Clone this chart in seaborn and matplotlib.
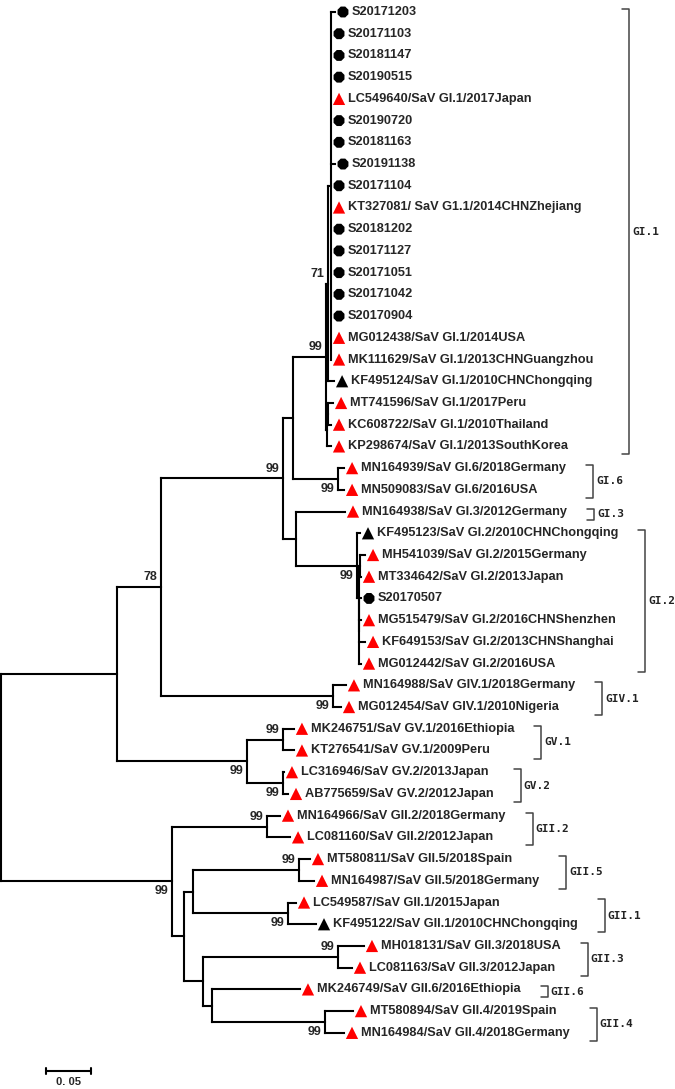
import numpy as np
import pandas as pd
import matplotlib
matplotlib.use("Agg")
import matplotlib.pyplot as plt
import seaborn as sns

# ---- tree data: leaves (top to bottom) ----
taxa = [
    "S20171203", "S20171103", "S20181147", "S20190515",
    "LC549640/SaV GI.1/2017Japan", "S20190720", "S20181163", "S20191138",
    "S20171104", "KT327081/ SaV G1.1/2014CHNZhejiang", "S20181202", "S20171127",
    "S20171051", "S20171042", "S20170904", "MG012438/SaV GI.1/2014USA",
    "MK111629/SaV GI.1/2013CHNGuangzhou", "KF495124/SaV GI.1/2010CHNChongqing",
    "MT741596/SaV GI.1/2017Peru", "KC608722/SaV GI.1/2010Thailand",
    "KP298674/SaV GI.1/2013SouthKorea", "MN164939/SaV GI.6/2018Germany",
    "MN509083/SaV GI.6/2016USA", "MN164938/SaV GI.3/2012Germany",
    "KF495123/SaV GI.2/2010CHNChongqing", "MH541039/SaV GI.2/2015Germany",
    "MT334642/SaV GI.2/2013Japan", "S20170507",
    "MG515479/SaV GI.2/2016CHNShenzhen", "KF649153/SaV GI.2/2013CHNShanghai",
    "MG012442/SaV GI.2/2016USA", "MN164988/SaV GIV.1/2018Germany",
    "MG012454/SaV GIV.1/2010Nigeria", "MK246751/SaV GV.1/2016Ethiopia",
    "KT276541/SaV GV.1/2009Peru", "LC316946/SaV GV.2/2013Japan",
    "AB775659/SaV GV.2/2012Japan", "MN164966/SaV GII.2/2018Germany",
    "LC081160/SaV GII.2/2012Japan", "MT580811/SaV GII.5/2018Spain",
    "MN164987/SaV GII.5/2018Germany", "LC549587/SaV GII.1/2015Japan",
    "KF495122/SaV GII.1/2010CHNChongqing", "MH018131/SaV GII.3/2018USA",
    "LC081163/SaV GII.3/2012Japan", "MK246749/SaV GII.6/2016Ethiopia",
    "MT580894/SaV GII.4/2019Spain", "MN164984/SaV GII.4/2018Germany",
]
taxa_kind = (["sample"] * 4 + ["ref"] + ["sample"] * 4 + ["ref"] + ["sample"] * 5
             + ["ref", "ref", "cq"] + ["ref"] * 6 + ["cq", "ref", "ref", "sample"]
             + ["ref"] * 14 + ["cq"] + ["ref"] * 5)
taxa_parent = (["poly"] * 17 + ["n71", "K2", "K2", "K", "GI6", "GI6", "H", "GI2",
               "GI2p", "GI2p", "GI2c", "GI2c", "GI2c", "GI2c", "GIV1", "GIV1",
               "GV1", "GV1", "GV2", "GV2", "GII2", "GII2", "GII5", "GII5",
               "GII1", "GII1", "GII3", "GII3", "E", "GII4", "GII4"])
taxa_len = [0.0044, 0, 0, 0, 0, 0, 0, 0.0044, 0, 0, 0, 0, 0, 0, 0, 0, 0,
            0.0067, 0.0056, 0.0033, 0.0044, 0.0067, 0.0067, 0.0544, 0.0033,
            0.0056, 0.0011, 0.0022, 0.0022, 0.0067, 0.0022, 0.0144, 0.0089,
            0.0122, 0.0122, 0.0011, 0.0056, 0.0144, 0.0256, 0.0122, 0.0167,
            0.0089, 0.0311, 0.0289, 0.0156, 0.0978, 0.0311, 0.0211]

# ---- internal nodes ----
node_names = ["root", "up", "P", "G", "F", "GI1", "n71", "poly", "K", "K2", "GI6",
              "H", "GI2", "GI2b", "GI2p", "GI2c", "GIV1", "V", "GV1", "GV2", "A",
              "GII2", "B", "C", "GII5", "GII1", "D", "GII3", "E", "GII4"]
node_parent = [None, "root", "up", "P", "G", "F", "GI1", "n71", "GI1", "K", "F",
               "G", "H", "GI2", "GI2b", "GI2b", "P", "up", "V", "V", "root",
               "A", "A", "B", "C", "C", "B", "D", "D", "E"]
node_len = [0, 0.1289, 0.0489, 0.1356, 0.0111, 0.0367, 0.0022, 0.0033, 0.0011,
            0.0011, 0.0500, 0.0144, 0.0678, 0.0022, 0.0011, 0.0, 0.1911, 0.1444,
            0.0400, 0.0400, 0.1900, 0.1056, 0.0133, 0.0100, 0.1178, 0.1056,
            0.0211, 0.1500, 0.0100, 0.1256]
node_support = [None, None, 78, 99, None, 99, 71, None, None, None, 99,
                None, 99, None, None, None, 99, 99, 99, 99, 99,
                99, None, None, 99, 99, None, 99, None, 99]

# ---- genogroup brackets ----
clade_names = ["GI.1", "GI.6", "GI.3", "GI.2", "GIV.1", "GV.1", "GV.2",
               "GII.2", "GII.5", "GII.1", "GII.3", "GII.6", "GII.4"]
clade_first = [1, 22, 24, 25, 32, 34, 36, 38, 40, 42, 44, 46, 47]
clade_last = [21, 23, 24, 31, 33, 35, 37, 39, 41, 43, 45, 46, 48]

scale_len = 0.05

# ---- layout ----
parent = dict(zip(node_names, node_parent))
parent.update(zip(taxa, taxa_parent))
blen = dict(zip(node_names, node_len))
blen.update(zip(taxa, taxa_len))
children = {n: [] for n in node_names}
for name, p in parent.items():
    if p is not None:
        children[p].append(name)

xpos = {}
def set_x(n, x0):
    xpos[n] = x0
    for c in children.get(n, []):
        set_x(c, x0 + blen[c])
set_x("root", 0.0)

ypos = {t: i for i, t in enumerate(taxa)}
def set_y(n):
    if n in ypos:
        return ypos[n]
    ys = sorted(set_y(c) for c in children[n])
    ypos[n] = (ys[0] + ys[-1]) / 2
    return ypos[n]
set_y("root")

# ---- figure ----
sns.set_style("white")
plt.rcParams["font.family"] = ["Liberation Sans", "DejaVu Sans"]
W, H = 675, 1089
fig = plt.figure(figsize=(W / 100, H / 100), dpi=100)
ax = fig.add_axes([0, 0, 1, 1])
px = 1 / 900          # tree units per pixel
rowpx = 21.72         # pixels per leaf row
x0px, y0px = 1, 12

lw = 1.5
for n, p in parent.items():
    if p is None or blen[n] == 0:
        continue
    ax.plot([xpos[p], xpos[n]], [ypos[n]] * 2, color="black", lw=lw,
            solid_capstyle="projecting")
for n in node_names:
    ys = [ypos[c] for c in children[n]]
    ax.plot([xpos[n]] * 2, [min(ys), max(ys)], color="black", lw=lw,
            solid_capstyle="projecting")

df = pd.DataFrame({"x": [xpos[t] + 8 * px for t in taxa],
                   "y": np.arange(len(taxa)), "kind": taxa_kind})
sns.scatterplot(data=df, x="x", y="y", hue="kind", style="kind", size="kind",
                markers={"sample": "8", "ref": "^", "cq": "^"},
                palette={"sample": "black", "ref": "#ff0000", "cq": "black"},
                sizes={"sample": 72, "ref": 78, "cq": 78},
                linewidth=0, legend=False, ax=ax, zorder=3)

tip_texts = []
for i, t in enumerate(taxa):
    tip_texts.append(ax.text(xpos[t] + 17 * px, i, t, fontsize=9.2, fontweight="bold",
                             va="center", ha="left"))

for n, s in zip(node_names, node_support):
    if s is None:
        continue
    dy = -0.45 if ypos[n] < ypos[parent[n]] else 0.45
    ax.text(xpos[n] - 4 * px, ypos[n] + dy, str(s), fontsize=9, fontweight="bold",
            ha="right", va="center")

ax.set_xlim(-x0px * px, (W - x0px) * px)
ax.set_ylim((H - y0px) / rowpx, -y0px / rowpx)
ax.axis("off")

fig.canvas.draw()
renderer = fig.canvas.get_renderer()
inv = ax.transData.inverted()
for k, (name, a, b) in enumerate(zip(clade_names, clade_first, clade_last)):
    right = max(tip_texts[i].get_window_extent(renderer).x1 for i in range(a - 1, b))
    pad = 36 if k == 0 else 27
    bx = inv.transform((right + pad, 0))[0]
    top, bot = a - 1 - 0.14, b - 1 + 0.37
    ax.plot([bx - 7 * px, bx, bx, bx - 7 * px], [top, top, bot, bot],
            color="#444444", lw=1.1)
    ax.text(bx + 3 * px, (top + bot) / 2, name, fontsize=8, fontweight="bold",
            family="DejaVu Sans Mono", ha="left", va="center", color="#222222")

# scale bar
sy = (1071 - y0px) / rowpx
ax.plot([scale_len, 2 * scale_len], [sy, sy], color="black", lw=lw)
for sx in (scale_len, 2 * scale_len):
    ax.plot([sx, sx], [sy - 0.15, sy + 0.15], color="black", lw=lw)
ax.text(1.5 * scale_len, sy + 0.52, "0. 05", fontsize=8, fontweight="bold",
        ha="center", va="center")

fig.savefig("out.png", dpi=100)
